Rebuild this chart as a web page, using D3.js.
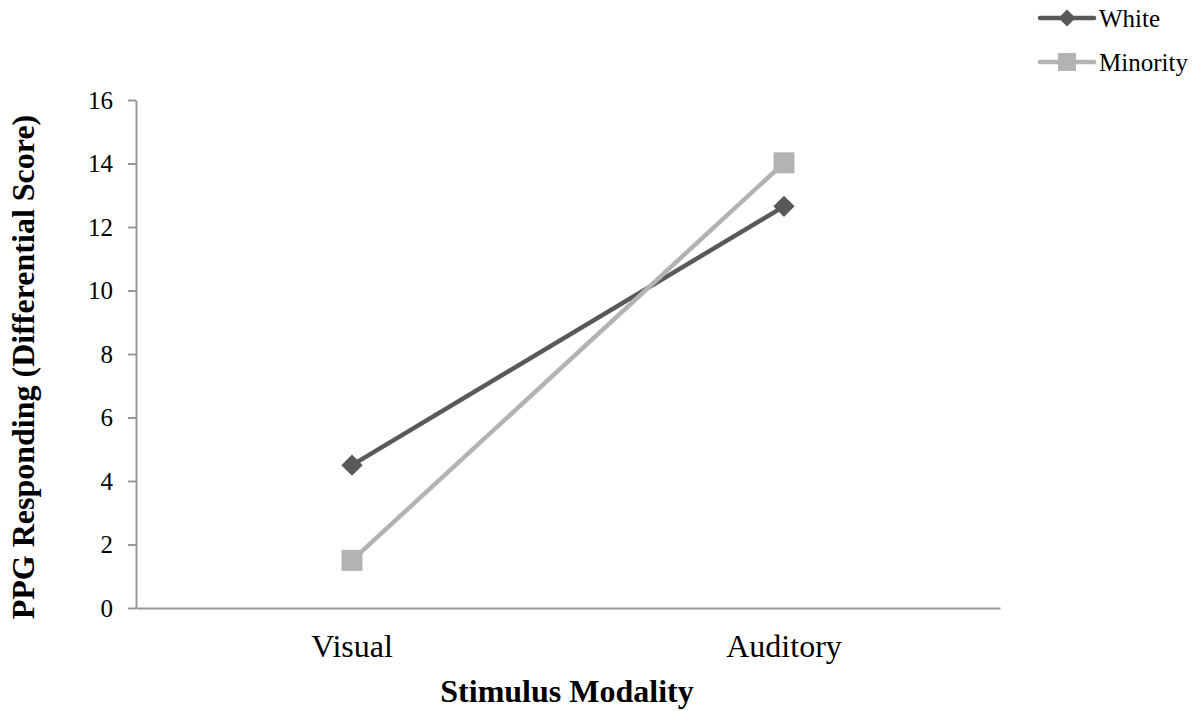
<!DOCTYPE html>
<html><head><meta charset="utf-8">
<script src="https://cdn.jsdelivr.net/npm/d3@7"></script>
<style>body{margin:0;background:#fff}svg{display:block}svg text{font-family:"Liberation Serif","Times New Roman",serif !important}</style>
</head><body>
<svg id="c" width="1203" height="711"></svg>
<script>
const categories = ["Visual", "Auditory"];
const seriesNames = ["White", "Minority"];
const whiteValues = [4.5, 12.65];
const minorityValues = [1.5, 14.02];
const yTicks = [0, 2, 4, 6, 8, 10, 12, 14, 16];
const colors = ["#595959", "#b3b3b3"];

const svg = d3.select("#c");
const L = 136, R = 1000, T = 100, B = 608;
const x = d3.scaleBand().domain(categories).range([L, R]);
const y = d3.scaleLinear().domain([0, 16]).range([B, T]);

const axisColor = "#989898";
const yAxis = svg.append("g").attr("transform", `translate(${L},0)`)
  .call(d3.axisLeft(y).tickValues(yTicks).tickSize(8).tickSizeOuter(0).tickPadding(15));
yAxis.attr("font-family", null);
yAxis.select(".domain").attr("stroke", axisColor).attr("stroke-width", 2);
yAxis.selectAll(".tick line").attr("stroke", axisColor).attr("stroke-width", 2);
yAxis.selectAll(".tick text").attr("font-size", 25).attr("fill", "#000");

const xAxis = svg.append("g").attr("transform", `translate(0,${B})`)
  .call(d3.axisBottom(x).tickSize(0).tickPadding(26));
xAxis.attr("font-family", null);
xAxis.select(".domain").attr("stroke", axisColor).attr("stroke-width", 2);
xAxis.selectAll(".tick text").attr("font-size", 32).attr("fill", "#000");

const cx = c => x(c) + x.bandwidth() / 2;
const data = [whiteValues, minorityValues];
const line = d3.line().x((d, i) => cx(categories[i])).y(d => y(d));

data.forEach((vals, si) => {
  svg.append("path").attr("d", line(vals)).attr("fill", "none")
    .attr("stroke", colors[si]).attr("stroke-width", 4.5);
});
// markers
svg.selectAll(".dm").data(whiteValues).enter().append("rect")
  .attr("x", -7.5).attr("y", -7.5).attr("width", 15).attr("height", 15)
  .attr("fill", colors[0])
  .attr("transform", (d, i) => `translate(${cx(categories[i])},${y(d)}) rotate(45)`);
svg.selectAll(".sq").data(minorityValues).enter().append("rect")
  .attr("x", (d, i) => cx(categories[i]) - 10.5).attr("y", d => y(d) - 10.5)
  .attr("width", 21).attr("height", 21).attr("fill", colors[1]);

// legend
const lg = svg.append("g");
seriesNames.forEach((n, i) => {
  const ly = 18 + i * 44;
  lg.append("line").attr("x1", 1040).attr("x2", 1094).attr("y1", ly).attr("y2", ly)
    .attr("stroke", colors[i]).attr("stroke-width", 4.5).attr("stroke-linecap", "round");
  if (i === 0) {
    lg.append("rect").attr("x", -6).attr("y", -6).attr("width", 12).attr("height", 12)
      .attr("fill", colors[0]).attr("transform", `translate(1067,${ly}) rotate(45)`);
  } else {
    lg.append("rect").attr("x", 1058).attr("y", ly - 9).attr("width", 18).attr("height", 18)
      .attr("fill", colors[1]);
  }
  lg.append("text").attr("x", 1099).attr("y", ly + 9).attr("font-size", 25).text(n);
});

// axis titles
svg.append("text").attr("x", 567).attr("y", 702).attr("text-anchor", "middle")
  .attr("font-size", 32).attr("font-weight", "bold").text("Stimulus Modality");
svg.append("text").attr("transform", `translate(34,367) rotate(-90)`).attr("text-anchor", "middle")
  .attr("font-size", 32).attr("font-weight", "bold").text("PPG Responding (Differential Score)");
</script>
</body></html>
